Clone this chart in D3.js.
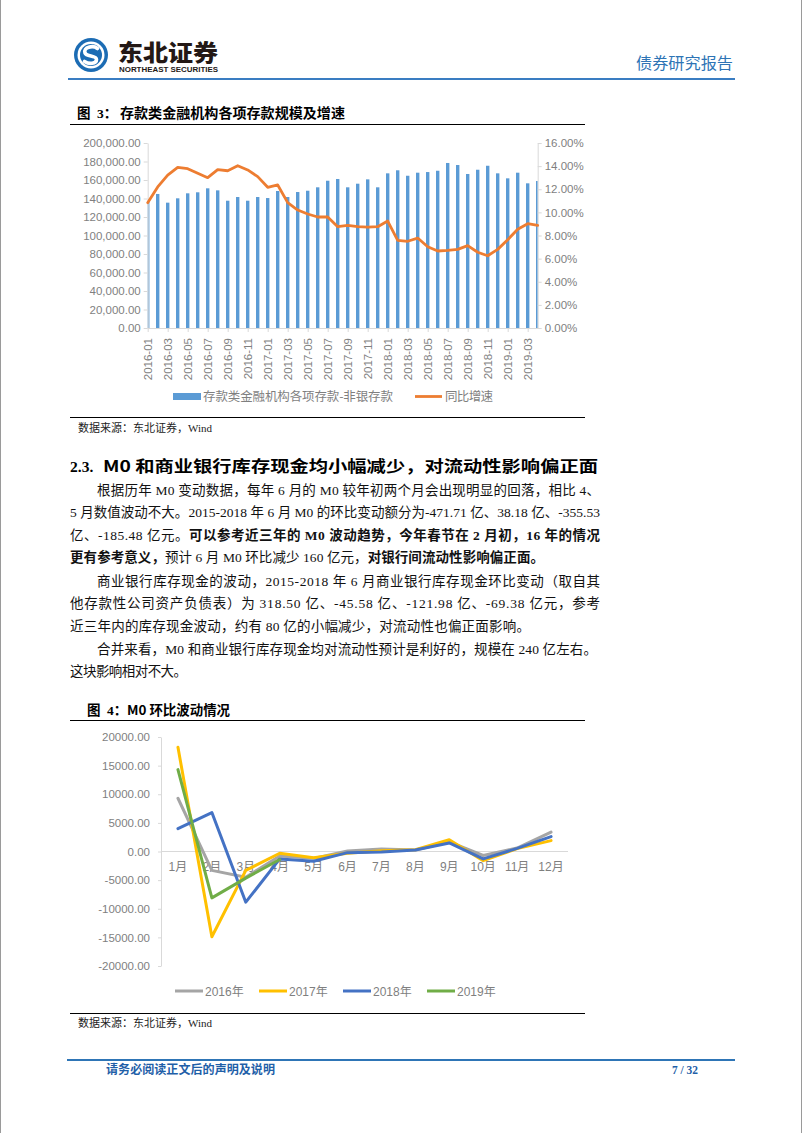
<!DOCTYPE html>
<html>
<head>
<meta charset="utf-8">
<script src="https://cdn.jsdelivr.net/npm/d3@7"></script>
<style>
body { margin: 0; background: #fff; }
svg { display: block; }
</style>
</head>
<body>
<div id="Page"></div>
<script>
// ---- chart 3 data ----
const Months = ["2016-01","2016-02","2016-03","2016-04","2016-05","2016-06","2016-07","2016-08","2016-09","2016-10","2016-11","2016-12",
                "2017-01","2017-02","2017-03","2017-04","2017-05","2017-06","2017-07","2017-08","2017-09","2017-10","2017-11","2017-12",
                "2018-01","2018-02","2018-03","2018-04","2018-05","2018-06","2018-07","2018-08","2018-09","2018-10","2018-11","2018-12",
                "2019-01","2019-02","2019-03","2019-04"];
const Deposits = [137000,144900,135500,140200,145600,146700,151000,148800,137600,141600,137600,141600,
                  140500,148100,141600,147000,148400,152100,159200,161100,152100,156000,160700,152100,
                  167200,170500,164600,167900,168600,170000,178400,176200,166500,171100,175400,167200,
                  161800,167900,156400,158900];
const Growth = [10.84,12.2,13.23,13.9,13.78,13.38,13.0,13.7,13.6,14.04,13.67,13.09,
                12.17,12.37,10.84,10.2,9.86,9.6,9.6,8.76,8.88,8.76,8.73,8.76,
                9.25,7.58,7.5,7.78,7.03,6.66,6.72,6.8,7.12,6.55,6.25,6.8,
                7.64,8.54,9.02,8.88];
const LeftTicks = [0,20000,40000,60000,80000,100000,120000,140000,160000,180000,200000];
const RightTicks = [0,0.02,0.04,0.06,0.08,0.10,0.12,0.14,0.16];
const SeriesNames3 = ["存款类金融机构各项存款-非银存款", "同比增速"];

// ---- chart 4 data ----
const MonthNames = ["1月","2月","3月","4月","5月","6月","7月","8月","9月","10月","11月","12月"];
const M0_2016 = [9300,-3300,-4500,-800,-1200,100,450,250,1700,-700,600,3400];
const M0_2017 = [18200,-14900,-3300,-300,-1100,-300,150,300,2050,-1600,500,1900];
const M0_2018 = [4000,6800,-8850,-1300,-1700,-200,-100,250,1500,-1300,550,2600];
const M0_2019 = [14300,-8100,-4650,-1400];
const M0Ticks = [-20000,-15000,-10000,-5000,0,5000,10000,15000,20000];
const YearNames = ["2016年","2017年","2018年","2019年"];

// ---- body text ----
const BodyLines =
[
    { x: 97, y: 495, len: 503, parts: [["根据历年 M0 变动数据，每年 6 月的 M0 较年初两个月会出现明显的回落，相比 4、", 0]] },
    { x: 70, y: 517, len: 530, parts: [["5 月数值波动不大。2015-2018 年 6 月 M0 的环比变动额分为-471.71 亿、38.18 亿、-355.53", 0]] },
    { x: 70, y: 540, len: 530, parts: [["亿、-185.48 亿元。", 0], ["可以参考近三年的 M0 波动趋势，今年春节在 2 月初，16 年的情况", 1]] },
    { x: 70, y: 562, len: 474, parts: [["更有参考意义，", 1], ["预计 6 月 M0 环比减少 160 亿元，", 0], ["对银行间流动性影响偏正面。", 1]] },
    { x: 97, y: 586, len: 503, parts: [["商业银行库存现金的波动，2015-2018 年 6 月商业银行库存现金环比变动（取自其", 0]] },
    { x: 70, y: 608, len: 530, parts: [["他存款性公司资产负债表）为 318.50 亿、-45.58 亿、-121.98 亿、-69.38 亿元，参考", 0]] },
    { x: 70, y: 631, len: 460, parts: [["近三年内的库存现金波动，约有 80 亿的小幅减少，对流动性也偏正面影响。", 0]] },
    { x: 97, y: 654, len: 500, parts: [["合并来看，M0 和商业银行库存现金均对流动性预计是利好的，规模在 240 亿左右。", 0]] },
    { x: 70, y: 676, len: 117, parts: [["这块影响相对不大。", 0]] }
];

const CJK = '"Noto Sans CJK SC", sans-serif';
const SERIF = '"Liberation Serif", "Noto Sans CJK SC", serif';
const SANS = '"Liberation Sans", Arial, "Noto Sans CJK SC", sans-serif';
const AxisGray = '#D9D9D9';
const LabelGray = '#7F7F7F';

const Svg = d3.select('#Page').append('svg').attr('width', 802).attr('height', 1133);

function AddText(x, y, str, size, opts = {})
{
    const t = Svg.append('text')
                 .attr('x', x)
                 .attr('y', y)
                 .style('font-family', opts.family || CJK)
                 .style('font-size', `${size}px`)
                 .style('font-weight', opts.weight || 400)
                 .attr('fill', opts.fill || '#000')
                 .text(str);
    if (opts.len) t.attr('textLength', opts.len).attr('lengthAdjust', 'spacingAndGlyphs');
    return t;
}

function HLine(x1, x2, y, color, width)
{
    Svg.append('line').attr('x1', x1).attr('x2', x2).attr('y1', y).attr('y2', y)
       .attr('stroke', color).attr('stroke-width', width);
}

function DrawPage()
{
    // page border
    Svg.append('line').attr('x1', 0.5).attr('x2', 0.5).attr('y1', 0).attr('y2', 1133).attr('stroke', '#9A9A9A');
    Svg.append('line').attr('x1', 801.5).attr('x2', 801.5).attr('y1', 0).attr('y2', 1133).attr('stroke', '#9A9A9A');

    // logo
    const Logo = Svg.append('g').attr('transform', 'translate(91,55)');
    Logo.append('circle').attr('r', 17).attr('fill', '#1C6CB4');
    Logo.append('circle').attr('r', 13.5).attr('fill', '#fff');
    Logo.append('circle').attr('r', 11).attr('fill', '#1C6CB4');
    Logo.append('path')
        .attr('d', 'M6.5,-6.5 C2,-10 -8,-8 -6,-2 C-4.5,2 5.5,0 5.5,4.5 C5.5,9 -2,9.5 -6.5,6.5')
        .attr('fill', 'none').attr('stroke', '#fff').attr('stroke-width', 3.6).attr('stroke-linecap', 'round');

    AddText(118, 61, '东北证券', 22.5, { weight: 900, fill: '#231815', len: 100 });
    AddText(119, 72, 'NORTHEAST SECURITIES', 6.5, { family: SANS, weight: 700, fill: '#231815', len: 99 });
    AddText(636, 69, '债券研究报告', 16, { fill: '#2E74B5', len: 97 });
    HLine(68, 735, 79, '#3A7DC2', 2);

    // chart 3 title + rules
    AddText(77, 118, '图', 13.5, { weight: 700 });
    AddText(97, 118, '3：', 13.5, { weight: 700, family: SERIF });
    AddText(120, 118, '存款类金融机构各项存款规模及增速', 13.5, { weight: 700, len: 225 });
    HLine(70, 585, 124.5, '#000', 1);
    HLine(70, 585, 417.5, '#000', 1);
    AddText(78, 432, '数据来源：东北证券，Wind', 11, { family: SERIF, fill: '#222' });

    // heading
    AddText(70, 471.5, '2.3.', 15.5, { weight: 700, family: SERIF });
    AddText(103, 471.5, 'M0 和商业银行库存现金均小幅减少，对流动性影响偏正面', 15.5, { weight: 700, len: 495 });

    // body
    BodyLines.forEach(line =>
    {
        const t = Svg.append('text')
                     .attr('x', line.x)
                     .attr('y', line.y)
                     .style('font-family', SERIF)
                     .style('font-size', '13.5px')
                     .attr('fill', '#111')
                     .attr('textLength', line.len)
                     .attr('lengthAdjust', 'spacing');
        line.parts.forEach(p =>
        {
            t.append('tspan').style('font-weight', p[1] ? 700 : 400).text(p[0]);
        });
    });

    // chart 4 title + rules
    AddText(87, 715, '图', 13.5, { weight: 700 });
    AddText(107, 715, '4：', 13.5, { weight: 700, family: SERIF });
    AddText(127, 715, 'M0 环比波动情况', 13.5, { weight: 700, len: 103 });
    HLine(70, 585, 720.5, '#000', 1);
    HLine(70, 585, 1013.5, '#000', 1);
    AddText(78, 1027, '数据来源：东北证券，Wind', 11, { family: SERIF, fill: '#222' });

    // footer
    HLine(67, 735, 1060, '#2E75B6', 2);
    AddText(106, 1074, '请务必阅读正文后的声明及说明', 12, { weight: 700, fill: '#1F5FA8', len: 169 });
    AddText(672, 1074, '7 / 32', 12, { weight: 700, fill: '#1F5FA8', family: SERIF, len: 26 });
}

function StyleAxis(g)
{
    g.select('.domain').attr('stroke', AxisGray);
    g.selectAll('.tick line').attr('stroke', AxisGray);
    g.selectAll('.tick text').attr('fill', LabelGray).style('font-family', SANS).style('font-size', '11.5px');
}

function DrawDepositChart()
{
    const Left = 147.7, Right = 537.7, Top = 143, Bottom = 328;
    const x = d3.scalePoint().domain(Months).range([Left, Right]);
    const yL = d3.scaleLinear().domain([0, 200000]).range([Bottom, Top]);
    const yR = d3.scaleLinear().domain([0, 0.16]).range([Bottom, Top]);
    const G = Svg.append('g');

    G.append('clipPath').attr('id', 'PlotClip')
     .append('rect').attr('x', Left).attr('y', Top - 5).attr('width', Right - Left).attr('height', Bottom - Top + 5);

    const BarW = 3.4;
    G.append('g').attr('clip-path', 'url(#PlotClip)')
     .selectAll('rect')
     .data(Deposits)
     .enter()
     .append('rect')
     .attr('x', (d, i) => x(Months[i]) - BarW / 2)
     .attr('y', d => yL(d))
     .attr('width', BarW)
     .attr('height', d => Bottom - yL(d))
     .attr('fill', '#5B9BD5');

    G.append('g').attr('transform', `translate(${Left},0)`)
     .call(d3.axisLeft(yL).tickValues(LeftTicks).tickFormat(d3.format(',.2f')).tickSize(4).tickPadding(3).tickSizeOuter(0))
     .call(StyleAxis);
    G.append('g').attr('transform', `translate(${Right},0)`)
     .call(d3.axisRight(yR).tickValues(RightTicks).tickFormat(d3.format('.2%')).tickSize(4).tickPadding(3).tickSizeOuter(0))
     .call(StyleAxis);
    const XAxis = G.append('g').attr('transform', `translate(0,${Bottom})`)
                   .call(d3.axisBottom(x).tickValues(Months.filter((d, i) => i % 2 === 0)).tickSize(4).tickSizeOuter(0))
                   .call(StyleAxis);
    XAxis.selectAll('.tick text')
         .attr('transform', 'rotate(-90)')
         .attr('x', -10)
         .attr('y', 0)
         .attr('dy', '0.35em')
         .style('text-anchor', 'end');

    const Line = d3.line().x((d, i) => x(Months[i])).y(d => yR(d / 100));
    G.append('path').datum(Growth)
     .attr('d', Line)
     .attr('fill', 'none')
     .attr('stroke', '#ED7D31')
     .attr('stroke-width', 2.8)
     .attr('stroke-linejoin', 'round')
     .attr('stroke-linecap', 'round');

    // legend
    G.append('rect').attr('x', 173).attr('y', 393).attr('width', 28).attr('height', 7).attr('fill', '#5B9BD5');
    G.append('text').attr('x', 203).attr('y', 401).attr('fill', LabelGray)
     .style('font-family', CJK).style('font-size', '12.5px').attr('textLength', 190).text(SeriesNames3[0]);
    G.append('line').attr('x1', 415).attr('x2', 442).attr('y1', 396.5).attr('y2', 396.5)
     .attr('stroke', '#ED7D31').attr('stroke-width', 2.8);
    G.append('text').attr('x', 445).attr('y', 401).attr('fill', LabelGray)
     .style('font-family', CJK).style('font-size', '12.5px').attr('textLength', 48).text(SeriesNames3[1]);
}

function DrawM0Chart()
{
    const Left = 161, Right = 568, Top = 737, Bottom = 966;
    const x = d3.scaleBand().domain(MonthNames).range([Left, Right]);
    const y = d3.scaleLinear().domain([-20000, 20000]).range([Bottom, Top]);
    const G = Svg.append('g');

    G.append('g').attr('transform', `translate(${Left},0)`)
     .call(d3.axisLeft(y).tickValues(M0Ticks).tickFormat(d3.format('.2f')).tickSize(3).tickPadding(8).tickSizeOuter(0))
     .call(StyleAxis);
    G.selectAll('.tick text').text(function() { return this.textContent.replace('−', '-'); });

    G.append('line').attr('x1', Left).attr('x2', Right).attr('y1', y(0)).attr('y2', y(0))
     .attr('stroke', AxisGray).attr('stroke-width', 1);

    G.append('g').selectAll('text')
     .data(MonthNames)
     .enter()
     .append('text')
     .attr('x', d => x(d) + x.bandwidth() / 2)
     .attr('y', y(0) + 19)
     .attr('text-anchor', 'middle')
     .attr('fill', LabelGray)
     .style('font-family', SANS)
     .style('font-size', '12px')
     .text(d => d);

    const Series = [
        { name: YearNames[0], values: M0_2016, color: '#A5A5A5' },
        { name: YearNames[1], values: M0_2017, color: '#FFC000' },
        { name: YearNames[2], values: M0_2018, color: '#4472C4' },
        { name: YearNames[3], values: M0_2019, color: '#70AD47' }
    ];
    const Line = d3.line().x((d, i) => x(MonthNames[i]) + x.bandwidth() / 2).y(d => y(d));
    Series.forEach(s =>
    {
        G.append('path').datum(s.values)
         .attr('d', Line)
         .attr('fill', 'none')
         .attr('stroke', s.color)
         .attr('stroke-width', 3)
         .attr('stroke-linejoin', 'round')
         .attr('stroke-linecap', 'round');
    });

    // legend
    Series.forEach((s, i) =>
    {
        const lx = 175 + i * 84;
        G.append('line').attr('x1', lx).attr('x2', lx + 28).attr('y1', 991).attr('y2', 991)
         .attr('stroke', s.color).attr('stroke-width', 3);
        G.append('text').attr('x', lx + 30).attr('y', 995.5).attr('fill', LabelGray)
         .style('font-family', SANS).style('font-size', '12px').text(s.name);
    });
}

DrawPage();
DrawDepositChart();
DrawM0Chart();
</script>
</body>
</html>
